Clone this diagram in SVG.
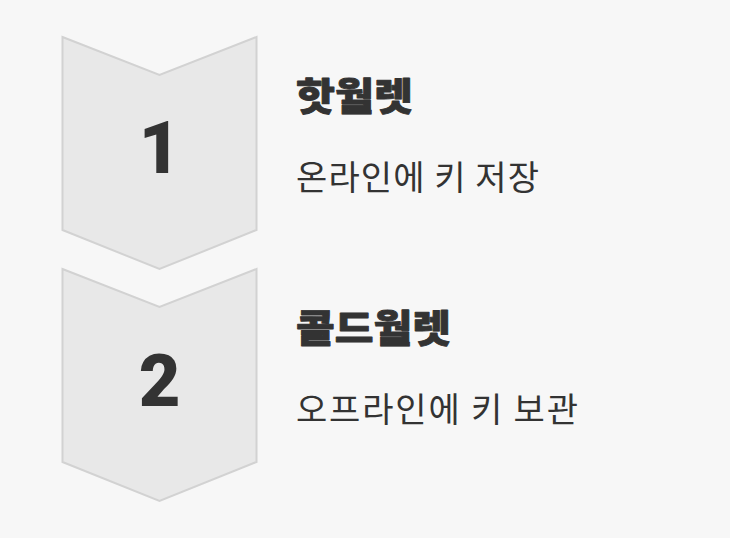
<svg xmlns="http://www.w3.org/2000/svg" width="730" height="538" viewBox="0 0 730 538">
<style>
.chev{fill:#e8e8e8;stroke:#d2d2d2;stroke-width:2;stroke-linejoin:miter}
.num{font-family:Roboto,"Liberation Sans",sans-serif;font-weight:900;font-size:72px;fill:#333;text-anchor:middle}
.title{font-family:"Noto Sans CJK KR","Noto Sans",sans-serif;font-weight:900;font-size:38px;fill:#333;stroke:#333;stroke-width:0.9;stroke-linejoin:round}
.sub{font-family:"Noto Sans CJK KR","Noto Sans",sans-serif;font-weight:400;font-size:34px;fill:#333}
</style>
<rect width="730" height="538" fill="#f7f7f7"/>
<g id="step1">
<polygon class="chev" points="62.5,37 159.5,75 256.5,37 256.5,230 159.5,269 62.5,230"/>
<text class="num" x="159.5" y="173">1</text>
<text class="title" x="296" y="110" textLength="117" lengthAdjust="spacingAndGlyphs">핫월렛</text>
<text class="sub" x="296" y="190" textLength="243" lengthAdjust="spacing">온라인에 키 저장</text>
</g>
<g id="step2">
<polygon class="chev" points="62.5,269 159.5,307 256.5,269 256.5,462 159.5,501 62.5,462"/>
<text class="num" x="159.5" y="406">2</text>
<text class="title" x="296" y="342" textLength="155" lengthAdjust="spacingAndGlyphs">콜드월렛</text>
<text class="sub" x="296" y="422" textLength="282" lengthAdjust="spacing">오프라인에 키 보관</text>
</g>
<g id="connectors"/>
</svg>
